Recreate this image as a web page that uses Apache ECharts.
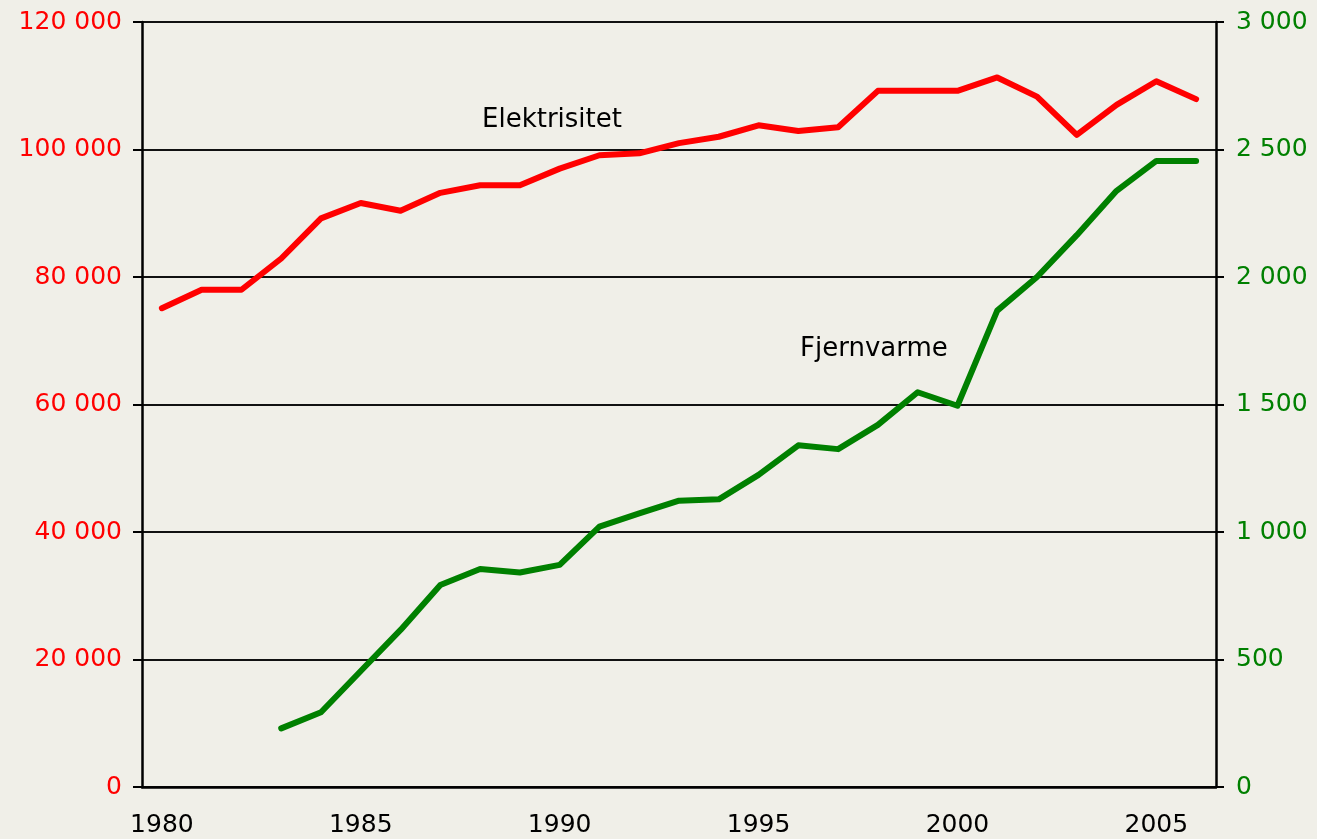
<!DOCTYPE html>
<html>
<head>
<meta charset="utf-8">
<script src="https://cdn.jsdelivr.net/npm/echarts@6/dist/echarts.min.js"></script>
<style>
  html, body { margin: 0; padding: 0; background: #f0efe8; }
  #main { width: 1317px; height: 839px; }
</style>
</head>
<body>
<div id="main"></div>
<script type="text/javascript">
    // år
    var years = ['1980', '1981', '1982', '1983', '1984', '1985', '1986', '1987', '1988', '1989',
                 '1990', '1991', '1992', '1993', '1994', '1995', '1996', '1997', '1998', '1999',
                 '2000', '2001', '2002', '2003', '2004', '2005', '2006'];

    // Elektrisitet (venstre akse)
    var elektrisitet = [75100, 78000, 78000, 82900, 89200, 91600, 90400, 93200, 94400, 94400,
                        97000, 99100, 99400, 101000, 102000, 103800, 102900, 103500, 109200, 109200,
                        109200, 111300, 108300, 102300, 107000, 110700, 107900];

    // Fjernvarme (høyre akse)
    var fjernvarme = [null, null, null, 230, 293, 455, 616, 792, 855, 841,
                      871, 1021, 1073, 1123, 1128, 1224, 1340, 1325, 1420, 1548,
                      1495, 1868, 2000, 2164, 2338, 2455, 2455];

    var leftTicks = [0, 20000, 40000, 60000, 80000, 100000, 120000];
    var rightTicks = [0, 500, 1000, 1500, 2000, 2500, 3000];

    var fontName = 'DejaVu Sans';

    function fmt(v) {
        return String(v).replace(/\B(?=(\d{3})+(?!\d))/g, ' ');
    }

    var chart = echarts.init(document.getElementById('main'));

    var option = {
        backgroundColor: '#f0efe8',
        animation: false,
        grid: {
            left: 142,
            right: 101,
            top: 22,
            bottom: 52
        },
        xAxis: {
            type: 'category',
            data: years,
            boundaryGap: true,
            axisLine: { lineStyle: { color: '#000', width: 2.5 } },
            axisTick: { interval: 4, length: 8, lineStyle: { color: '#000', width: 2 } },
            axisLabel: {
                interval: 4,
                margin: 26,
                color: '#000',
                fontFamily: fontName,
                fontSize: 25
            },
            splitLine: { show: false }
        },
        yAxis: [
            {
                type: 'value',
                min: leftTicks[0],
                max: leftTicks[leftTicks.length - 1],
                interval: 20000,
                axisLine: { show: true, lineStyle: { color: '#000', width: 2.5 } },
                axisTick: { show: true, length: 9, lineStyle: { color: '#000', width: 2 } },
                axisLabel: {
                    margin: 20,
                    color: '#ff0000',
                    fontFamily: fontName,
                    fontSize: 25,
                    formatter: fmt
                },
                splitLine: { show: true, lineStyle: { color: '#111', width: 2 } }
            },
            {
                type: 'value',
                position: 'right',
                min: rightTicks[0],
                max: rightTicks[rightTicks.length - 1],
                interval: 500,
                axisLine: { show: true, lineStyle: { color: '#000', width: 2.5 } },
                axisTick: { show: true, length: 8, lineStyle: { color: '#000', width: 2 } },
                axisLabel: {
                    margin: 20,
                    color: '#008000',
                    fontFamily: fontName,
                    fontSize: 25,
                    formatter: fmt
                },
                splitLine: { show: false }
            }
        ],
        series: [
            {
                name: 'Elektrisitet',
                type: 'line',
                yAxisIndex: 0,
                data: elektrisitet,
                symbol: 'none',
                lineStyle: { color: '#ff0000', width: 6, cap: 'round', join: 'round' },
                z: 3
            },
            {
                name: 'Fjernvarme',
                type: 'line',
                yAxisIndex: 1,
                data: fjernvarme,
                symbol: 'none',
                lineStyle: { color: '#008000', width: 6, cap: 'round', join: 'round' },
                z: 3
            }
        ],
        graphic: [
            {
                type: 'text',
                left: 482,
                top: 107,
                style: { text: 'Elektrisitet', fill: '#000', font: '26px "DejaVu Sans"' }
            },
            {
                type: 'text',
                left: 800,
                top: 336,
                style: { text: 'Fjernvarme', fill: '#000', font: '26px "DejaVu Sans"' }
            }
        ]
    };

    chart.setOption(option);
</script>
</body>
</html>
